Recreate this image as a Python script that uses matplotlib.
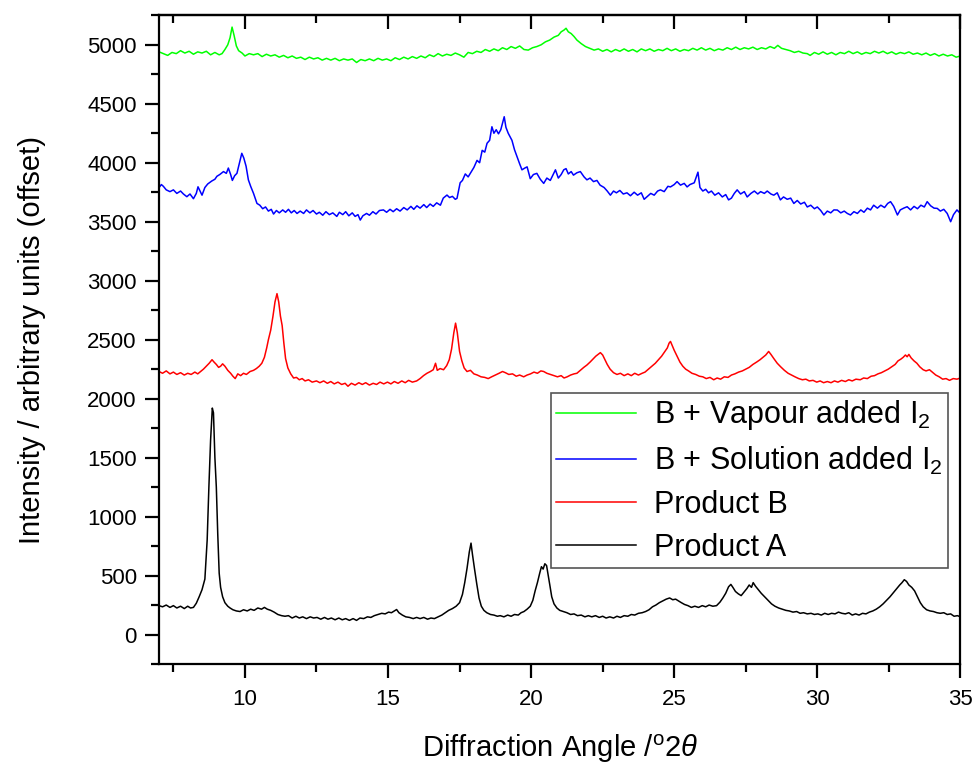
import matplotlib
matplotlib.use('Agg')
import matplotlib.pyplot as plt
from matplotlib.ticker import MultipleLocator

''' --- Powder XRD patterns (offset) --- '''
# values: (2theta, intensity)
vapour_pts = [
    (7.00, 4940), (7.15, 4925), (7.30, 4910), (7.45, 4935), (7.60, 4925), (7.75, 4950), (7.90, 4930),
    (8.05, 4945), (8.20, 4920), (8.35, 4940), (8.50, 4930), (8.65, 4945), (8.80, 4915), (8.95, 4935),
    (9.10, 4915), (9.20, 4925), (9.30, 4960), (9.40, 5000), (9.48, 5060), (9.55, 5150), (9.62, 5080),
    (9.70, 4990), (9.78, 4950), (9.90, 4930), (10.00, 4905), (10.15, 4925), (10.30, 4915), (10.45, 4925),
    (10.60, 4900), (10.75, 4920), (10.90, 4905), (11.05, 4915), (11.20, 4895), (11.35, 4910), (11.50, 4890),
    (11.65, 4905), (11.80, 4885), (11.95, 4895), (12.10, 4875), (12.25, 4895), (12.40, 4880), (12.55, 4890),
    (12.70, 4870), (12.85, 4885), (13.00, 4870), (13.15, 4885), (13.30, 4865), (13.45, 4880), (13.60, 4870),
    (13.75, 4880), (13.90, 4850), (14.05, 4875), (14.20, 4865), (14.35, 4880), (14.50, 4865), (14.65, 4885),
    (14.80, 4870), (14.95, 4880), (15.10, 4865), (15.25, 4890), (15.40, 4875), (15.55, 4895), (15.70, 4880),
    (15.85, 4900), (16.00, 4885), (16.15, 4905), (16.30, 4890), (16.45, 4915), (16.60, 4900), (16.75, 4925),
    (16.90, 4905), (17.05, 4920), (17.20, 4910), (17.35, 4930), (17.50, 4915), (17.65, 4895), (17.80, 4935),
    (17.95, 4925), (18.10, 4945), (18.25, 4935), (18.40, 4960), (18.55, 4945), (18.70, 4965), (18.85, 4950),
    (19.00, 4975), (19.15, 4960), (19.30, 4985), (19.45, 4970), (19.60, 4990), (19.75, 4960), (19.90, 4955),
    (20.05, 4975), (20.20, 4985), (20.35, 5000), (20.50, 5025), (20.65, 5040), (20.80, 5065), (20.95, 5080),
    (21.05, 5110), (21.15, 5125), (21.22, 5140), (21.30, 5110), (21.40, 5095), (21.50, 5070), (21.60, 5040),
    (21.75, 5010), (21.90, 4985), (22.05, 4970), (22.20, 4955), (22.35, 4965), (22.50, 4945), (22.65, 4960),
    (22.80, 4940), (22.95, 4960), (23.10, 4945), (23.25, 4965), (23.40, 4945), (23.55, 4960), (23.70, 4940),
    (23.85, 4965), (24.00, 4950), (24.15, 4965), (24.30, 4945), (24.45, 4960), (24.60, 4950), (24.75, 4970),
    (24.90, 4950), (25.05, 4965), (25.20, 4945), (25.35, 4960), (25.50, 4950), (25.65, 4970), (25.80, 4955),
    (25.95, 4975), (26.10, 4955), (26.25, 4970), (26.40, 4950), (26.55, 4965), (26.70, 4955), (26.85, 4975),
    (27.00, 4960), (27.15, 4980), (27.30, 4960), (27.45, 4975), (27.60, 4965), (27.75, 4980), (27.90, 4960),
    (28.05, 4975), (28.20, 4965), (28.35, 4985), (28.50, 4970), (28.62, 4995), (28.75, 4970), (28.90, 4960),
    (29.05, 4950), (29.20, 4935), (29.35, 4945), (29.50, 4930), (29.65, 4925), (29.75, 4910), (29.90, 4935),
    (30.05, 4920), (30.20, 4940), (30.35, 4920), (30.50, 4935), (30.65, 4915), (30.80, 4935), (30.95, 4925),
    (31.10, 4945), (31.25, 4925), (31.40, 4940), (31.55, 4920), (31.70, 4935), (31.85, 4925), (32.00, 4945),
    (32.15, 4930), (32.30, 4945), (32.45, 4925), (32.60, 4940), (32.75, 4920), (32.90, 4935), (33.05, 4925),
    (33.20, 4940), (33.35, 4920), (33.50, 4930), (33.65, 4915), (33.80, 4930), (33.95, 4910), (34.10, 4925),
    (34.25, 4905), (34.40, 4920), (34.55, 4905), (34.70, 4915), (34.85, 4895), (35.00, 4905),
]

solution_pts = [
    (7.00, 3790), (7.08, 3815), (7.15, 3800), (7.25, 3770), (7.38, 3755), (7.50, 3770), (7.62, 3740),
    (7.75, 3760), (7.85, 3735), (7.97, 3712), (8.08, 3735), (8.20, 3695), (8.30, 3740), (8.36, 3796),
    (8.43, 3760), (8.50, 3725), (8.60, 3790), (8.70, 3820), (8.84, 3845), (8.95, 3860), (9.02, 3885),
    (9.12, 3900), (9.25, 3925), (9.35, 3910), (9.42, 3955), (9.50, 3900), (9.56, 3850), (9.64, 3890),
    (9.72, 3910), (9.80, 3990), (9.89, 4080), (9.96, 4040), (10.04, 3970), (10.12, 3855), (10.20, 3800),
    (10.30, 3740), (10.42, 3655), (10.52, 3640), (10.62, 3610), (10.72, 3625), (10.82, 3590), (10.92, 3605),
    (11.00, 3565), (11.10, 3595), (11.20, 3575), (11.32, 3600), (11.42, 3580), (11.52, 3605), (11.62, 3575),
    (11.72, 3595), (11.82, 3570), (11.93, 3590), (12.05, 3570), (12.15, 3600), (12.27, 3575), (12.38, 3595),
    (12.50, 3565), (12.60, 3580), (12.72, 3555), (12.83, 3585), (12.95, 3560), (13.07, 3575), (13.21, 3545),
    (13.30, 3580), (13.42, 3560), (13.52, 3585), (13.63, 3550), (13.75, 3575), (13.85, 3545), (13.95, 3560),
    (14.03, 3514), (14.12, 3550), (14.25, 3570), (14.35, 3555), (14.47, 3585), (14.58, 3565), (14.70, 3595),
    (14.84, 3600), (14.95, 3580), (15.07, 3605), (15.18, 3585), (15.30, 3610), (15.42, 3590), (15.55, 3620),
    (15.67, 3600), (15.80, 3630), (15.90, 3605), (16.01, 3635), (16.12, 3615), (16.25, 3645), (16.35, 3620),
    (16.47, 3650), (16.58, 3630), (16.70, 3660), (16.83, 3640), (16.93, 3700), (17.06, 3726), (17.15, 3705),
    (17.25, 3715), (17.35, 3690), (17.41, 3698), (17.52, 3830), (17.60, 3850), (17.70, 3905), (17.80, 3880),
    (17.90, 3920), (18.00, 3960), (18.11, 4020), (18.20, 4000), (18.29, 4105), (18.38, 4090), (18.46, 4165),
    (18.55, 4190), (18.63, 4305), (18.70, 4250), (18.78, 4280), (18.86, 4245), (18.94, 4280), (19.06, 4390),
    (19.12, 4300), (19.20, 4250), (19.33, 4190), (19.42, 4110), (19.51, 4050), (19.60, 3990), (19.68, 3940),
    (19.78, 3955), (19.86, 3965), (19.97, 3865), (20.08, 3900), (20.20, 3910), (20.32, 3860), (20.44, 3825),
    (20.55, 3870), (20.67, 3850), (20.79, 3910), (20.85, 3940), (20.95, 3870), (21.05, 3900), (21.14, 3940),
    (21.22, 3950), (21.30, 3905), (21.40, 3925), (21.48, 3895), (21.60, 3915), (21.72, 3925), (21.85, 3880),
    (21.95, 3855), (22.06, 3870), (22.18, 3840), (22.30, 3850), (22.41, 3810), (22.55, 3790), (22.66, 3760),
    (22.77, 3725), (22.88, 3760), (22.98, 3745), (23.10, 3765), (23.22, 3735), (23.35, 3745), (23.47, 3720),
    (23.60, 3750), (23.72, 3725), (23.85, 3745), (23.95, 3690), (24.05, 3712), (24.18, 3740), (24.30, 3725),
    (24.42, 3760), (24.52, 3770), (24.65, 3755), (24.78, 3800), (24.87, 3795), (25.00, 3815), (25.10, 3840),
    (25.22, 3810), (25.35, 3825), (25.45, 3795), (25.55, 3815), (25.70, 3830), (25.83, 3920), (25.90, 3790),
    (26.00, 3760), (26.10, 3775), (26.20, 3745), (26.30, 3760), (26.42, 3725), (26.55, 3745), (26.68, 3710),
    (26.80, 3730), (26.90, 3685), (27.00, 3700), (27.10, 3740), (27.20, 3770), (27.32, 3735), (27.45, 3755),
    (27.55, 3710), (27.68, 3740), (27.80, 3760), (27.92, 3735), (28.02, 3755), (28.15, 3740), (28.25, 3760),
    (28.38, 3735), (28.48, 3725), (28.60, 3745), (28.71, 3685), (28.82, 3710), (28.95, 3690), (29.07, 3700),
    (29.18, 3655), (29.30, 3680), (29.42, 3650), (29.55, 3665), (29.65, 3625), (29.77, 3640), (29.90, 3610),
    (30.00, 3625), (30.12, 3595), (30.23, 3557), (30.35, 3590), (30.47, 3575), (30.58, 3600), (30.70, 3599),
    (30.82, 3575), (30.94, 3590), (31.05, 3570), (31.16, 3557), (31.28, 3585), (31.40, 3570), (31.52, 3600),
    (31.63, 3580), (31.75, 3615), (31.86, 3600), (31.97, 3640), (32.10, 3615), (32.22, 3640), (32.35, 3620),
    (32.46, 3655), (32.56, 3670), (32.67, 3630), (32.80, 3557), (32.90, 3600), (33.02, 3615), (33.14, 3627),
    (33.26, 3600), (33.38, 3630), (33.50, 3610), (33.62, 3640), (33.74, 3625), (33.84, 3670), (33.96, 3635),
    (34.08, 3615), (34.19, 3613), (34.30, 3590), (34.42, 3605), (34.54, 3570), (34.66, 3500), (34.76, 3560),
    (34.88, 3600), (35.00, 3570),
]

product_b_pts = [
    (7.00, 2230), (7.12, 2215), (7.25, 2235), (7.38, 2210), (7.50, 2225), (7.62, 2205), (7.75, 2220),
    (7.88, 2200), (8.00, 2215), (8.12, 2205), (8.25, 2225), (8.35, 2210), (8.45, 2230), (8.55, 2250),
    (8.65, 2275), (8.75, 2300), (8.85, 2330), (8.92, 2310), (9.00, 2290), (9.08, 2265), (9.15, 2275),
    (9.22, 2295), (9.30, 2275), (9.40, 2240), (9.50, 2215), (9.58, 2190), (9.66, 2170), (9.75, 2210),
    (9.85, 2195), (9.95, 2215), (10.05, 2205), (10.18, 2230), (10.30, 2240), (10.40, 2255), (10.50, 2275),
    (10.59, 2300), (10.68, 2350), (10.76, 2430), (10.82, 2500), (10.90, 2580), (10.98, 2700), (11.05, 2820),
    (11.12, 2890), (11.18, 2820), (11.24, 2700), (11.30, 2620), (11.36, 2470), (11.42, 2340), (11.50, 2260),
    (11.60, 2210), (11.70, 2175), (11.80, 2180), (11.90, 2160), (12.00, 2170), (12.10, 2150), (12.22, 2160),
    (12.35, 2140), (12.50, 2150), (12.62, 2135), (12.75, 2150), (12.88, 2130), (13.00, 2145), (13.12, 2125),
    (13.25, 2140), (13.38, 2120), (13.50, 2130), (13.60, 2105), (13.72, 2130), (13.85, 2115), (13.98, 2135),
    (14.10, 2120), (14.22, 2135), (14.35, 2115), (14.48, 2130), (14.60, 2120), (14.72, 2140), (14.85, 2125),
    (14.98, 2140), (15.10, 2125), (15.22, 2145), (15.35, 2130), (15.48, 2150), (15.60, 2135), (15.72, 2155),
    (15.85, 2140), (16.00, 2150), (16.12, 2170), (16.24, 2195), (16.36, 2215), (16.48, 2230), (16.58, 2245),
    (16.66, 2300), (16.72, 2240), (16.82, 2255), (16.94, 2245), (17.05, 2280), (17.14, 2330), (17.22, 2420),
    (17.30, 2560), (17.36, 2640), (17.42, 2560), (17.50, 2400), (17.58, 2320), (17.66, 2260), (17.76, 2230),
    (17.88, 2240), (18.00, 2210), (18.12, 2200), (18.25, 2185), (18.38, 2180), (18.50, 2170), (18.62, 2185),
    (18.75, 2200), (18.88, 2215), (19.00, 2230), (19.10, 2220), (19.22, 2205), (19.35, 2210), (19.48, 2190),
    (19.60, 2200), (19.74, 2185), (19.86, 2200), (19.98, 2210), (20.10, 2225), (20.22, 2215), (20.34, 2235),
    (20.44, 2230), (20.55, 2215), (20.68, 2205), (20.80, 2195), (20.92, 2185), (21.05, 2195), (21.15, 2175),
    (21.26, 2185), (21.38, 2200), (21.50, 2210), (21.60, 2215), (21.72, 2240), (21.84, 2265), (21.95, 2285),
    (22.06, 2310), (22.16, 2335), (22.26, 2360), (22.34, 2375), (22.42, 2390), (22.50, 2370), (22.58, 2330),
    (22.66, 2290), (22.76, 2250), (22.88, 2220), (23.00, 2205), (23.12, 2215), (23.25, 2195), (23.38, 2210),
    (23.50, 2195), (23.62, 2215), (23.75, 2200), (23.88, 2215), (23.98, 2225), (24.10, 2250), (24.22, 2275),
    (24.34, 2300), (24.45, 2330), (24.56, 2360), (24.66, 2395), (24.76, 2430), (24.82, 2470), (24.87, 2485),
    (24.93, 2450), (25.00, 2410), (25.10, 2360), (25.20, 2310), (25.30, 2275), (25.40, 2250), (25.50, 2235),
    (25.62, 2215), (25.75, 2205), (25.88, 2190), (26.00, 2185), (26.12, 2170), (26.25, 2180), (26.38, 2160),
    (26.50, 2175), (26.62, 2165), (26.75, 2185), (26.88, 2180), (27.00, 2200), (27.12, 2210), (27.25, 2225),
    (27.38, 2235), (27.50, 2250), (27.62, 2265), (27.75, 2290), (27.88, 2310), (28.00, 2330), (28.10, 2350),
    (28.20, 2370), (28.30, 2400), (28.38, 2375), (28.48, 2340), (28.60, 2300), (28.72, 2270), (28.85, 2240),
    (28.98, 2215), (29.10, 2200), (29.22, 2185), (29.35, 2170), (29.48, 2160), (29.60, 2165), (29.72, 2150),
    (29.85, 2155), (29.98, 2140), (30.10, 2150), (30.22, 2135), (30.35, 2145), (30.48, 2135), (30.60, 2150),
    (30.72, 2140), (30.85, 2155), (30.98, 2145), (31.10, 2160), (31.22, 2150), (31.35, 2165), (31.50, 2160),
    (31.62, 2175), (31.75, 2170), (31.88, 2190), (32.00, 2195), (32.12, 2210), (32.24, 2220), (32.36, 2235),
    (32.48, 2250), (32.60, 2270), (32.72, 2290), (32.82, 2320), (32.92, 2335), (33.00, 2350), (33.08, 2370),
    (33.14, 2355), (33.20, 2375), (33.28, 2345), (33.38, 2320), (33.48, 2300), (33.58, 2270), (33.70, 2245),
    (33.80, 2235), (33.92, 2245), (34.02, 2225), (34.14, 2200), (34.26, 2185), (34.38, 2165), (34.50, 2170),
    (34.62, 2155), (34.75, 2170), (34.88, 2165), (35.00, 2175),
]

product_a_pts = [
    (7.00, 245), (7.12, 235), (7.25, 250), (7.38, 230), (7.50, 245), (7.62, 225), (7.75, 240), (7.88, 220),
    (8.00, 240), (8.10, 225), (8.20, 230), (8.30, 265), (8.40, 320), (8.50, 380), (8.60, 470), (8.68, 800),
    (8.74, 1250), (8.80, 1650), (8.86, 1920), (8.90, 1880), (8.95, 1500), (9.00, 1250), (9.05, 850),
    (9.10, 520), (9.15, 400), (9.22, 320), (9.30, 270), (9.40, 240), (9.48, 225), (9.58, 210), (9.70, 200),
    (9.83, 195), (9.95, 210), (10.08, 200), (10.20, 215), (10.32, 205), (10.45, 225), (10.58, 215),
    (10.68, 230), (10.78, 215), (10.90, 205), (11.02, 190), (11.15, 170), (11.28, 160), (11.40, 155),
    (11.52, 160), (11.65, 140), (11.78, 155), (11.90, 140), (12.02, 150), (12.15, 135), (12.28, 150),
    (12.40, 140), (12.52, 145), (12.65, 130), (12.78, 145), (12.90, 130), (13.02, 140), (13.15, 125),
    (13.28, 140), (13.40, 125), (13.52, 135), (13.65, 120), (13.78, 135), (13.90, 120), (14.02, 140),
    (14.15, 135), (14.28, 150), (14.40, 145), (14.52, 160), (14.65, 170), (14.78, 180), (14.90, 175),
    (15.02, 190), (15.12, 185), (15.22, 200), (15.30, 212), (15.38, 185), (15.50, 165), (15.62, 150),
    (15.75, 145), (15.88, 135), (16.00, 145), (16.12, 135), (16.25, 145), (16.38, 130), (16.50, 140),
    (16.62, 135), (16.75, 150), (16.88, 165), (17.00, 185), (17.12, 205), (17.25, 220), (17.38, 240),
    (17.50, 270), (17.60, 340), (17.68, 440), (17.76, 560), (17.84, 700), (17.90, 775), (17.95, 680),
    (18.02, 560), (18.10, 430), (18.18, 310), (18.26, 240), (18.35, 205), (18.45, 185), (18.58, 170),
    (18.70, 165), (18.82, 155), (18.92, 160), (19.05, 150), (19.18, 165), (19.30, 155), (19.42, 170),
    (19.55, 165), (19.65, 185), (19.75, 195), (19.86, 215), (19.97, 240), (20.06, 290), (20.14, 370),
    (20.22, 440), (20.30, 520), (20.36, 575), (20.42, 555), (20.48, 600), (20.54, 585), (20.60, 500),
    (20.66, 410), (20.72, 320), (20.80, 260), (20.90, 225), (21.00, 205), (21.12, 195), (21.25, 185),
    (21.38, 170), (21.50, 175), (21.62, 160), (21.75, 165), (21.88, 150), (22.00, 160), (22.12, 150),
    (22.25, 160), (22.38, 145), (22.50, 155), (22.62, 140), (22.75, 150), (22.88, 140), (23.00, 155),
    (23.12, 145), (23.25, 160), (23.38, 155), (23.50, 170), (23.62, 165), (23.75, 180), (23.88, 185),
    (24.00, 195), (24.12, 210), (24.24, 235), (24.36, 250), (24.48, 270), (24.60, 285), (24.72, 300),
    (24.84, 310), (24.95, 295), (25.05, 300), (25.15, 285), (25.25, 270), (25.36, 255), (25.48, 245),
    (25.60, 230), (25.72, 240), (25.85, 230), (25.98, 245), (26.10, 235), (26.22, 250), (26.35, 240),
    (26.48, 245), (26.60, 275), (26.70, 310), (26.80, 350), (26.90, 405), (26.98, 425), (27.05, 400),
    (27.14, 365), (27.24, 345), (27.34, 330), (27.44, 360), (27.54, 390), (27.62, 420), (27.70, 400),
    (27.76, 440), (27.84, 410), (27.94, 380), (28.04, 350), (28.16, 320), (28.28, 290), (28.40, 260),
    (28.52, 240), (28.65, 225), (28.78, 215), (28.90, 205), (29.02, 200), (29.15, 190), (29.28, 195),
    (29.40, 180), (29.52, 185), (29.65, 175), (29.78, 180), (29.90, 170), (30.02, 175), (30.14, 165),
    (30.26, 180), (30.38, 170), (30.50, 180), (30.62, 175), (30.74, 190), (30.86, 180), (30.98, 175),
    (31.10, 185), (31.22, 165), (31.34, 175), (31.46, 165), (31.58, 180), (31.70, 175), (31.82, 190),
    (31.94, 200), (32.06, 215), (32.18, 235), (32.30, 260), (32.42, 290), (32.54, 320), (32.66, 355),
    (32.78, 390), (32.88, 420), (32.96, 440), (33.04, 465), (33.12, 450), (33.20, 420), (33.30, 400),
    (33.40, 370), (33.50, 320), (33.60, 270), (33.70, 235), (33.82, 210), (33.94, 200), (34.06, 195),
    (34.18, 185), (34.30, 180), (34.42, 185), (34.54, 170), (34.66, 175), (34.78, 155), (34.90, 160),
    (35.00, 150),
]

labels = ['B + Vapour added I$_2$', 'B + Solution added I$_2$', 'Product B', 'Product A']
colours = ['#00ff00', '#0000ff', '#ff0000', '#000000']

plt.rcParams['font.family'] = ['Liberation Sans', 'DejaVu Sans']
plt.rcParams['mathtext.fontset'] = 'custom'
plt.rcParams['mathtext.rm'] = 'Liberation Sans'
plt.rcParams['mathtext.it'] = 'Liberation Sans:italic'

fig = plt.figure(figsize=(9.76, 7.65), dpi=100)
ax = fig.add_axes([0.163, 0.132, 0.821, 0.848])

handles = []
for pts, lab, col in zip([vapour_pts, solution_pts, product_b_pts, product_a_pts], labels, colours):
    x, y = zip(*pts)
    h, = ax.plot(x, y, color=col, lw=1.1, label=lab)
    handles.append(h)

ax.set_xlim(7, 35)
ax.set_ylim(-250, 5250)
ax.xaxis.set_major_locator(MultipleLocator(5))
ax.xaxis.set_minor_locator(MultipleLocator(2.5))
ax.yaxis.set_major_locator(MultipleLocator(500))
ax.yaxis.set_minor_locator(MultipleLocator(250))

for s in ax.spines.values():
    s.set_linewidth(1.6)
ax.tick_params(which='both', width=1.6, labelsize=16, direction='out',
               top=False, right=False)
ax.tick_params(which='major', length=10)
ax.tick_params(which='minor', length=6)
ax.tick_params(axis='x', pad=8)
ax.tick_params(axis='y', pad=6)

# top axis: same ticks pointing inward, no labels
top = ax.secondary_xaxis('top')
top.xaxis.set_major_locator(MultipleLocator(5))
top.xaxis.set_minor_locator(MultipleLocator(2.5))
top.tick_params(which='both', direction='in', width=1.6, labeltop=False)
top.tick_params(which='major', length=10)
top.tick_params(which='minor', length=6)
top.spines['top'].set_linewidth(1.6)

ax.set_xlabel(r'Diffraction Angle /$^{\mathrm{o}}$2$\mathit{\theta}$', fontsize=21, labelpad=16)
ax.set_ylabel('Intensity / arbitrary units (offset)', fontsize=21, labelpad=30)

leg = ax.legend(handles=handles, loc='upper right', bbox_to_anchor=(0.985, 0.418),
                borderaxespad=0, fontsize=22, frameon=True, fancybox=False,
                edgecolor='#555555', framealpha=1,
                handlelength=2.6, handletextpad=0.6, labelspacing=0.42, borderpad=0.18)
leg.get_frame().set_linewidth(1.2)

fig.savefig('out.png', dpi=100)
